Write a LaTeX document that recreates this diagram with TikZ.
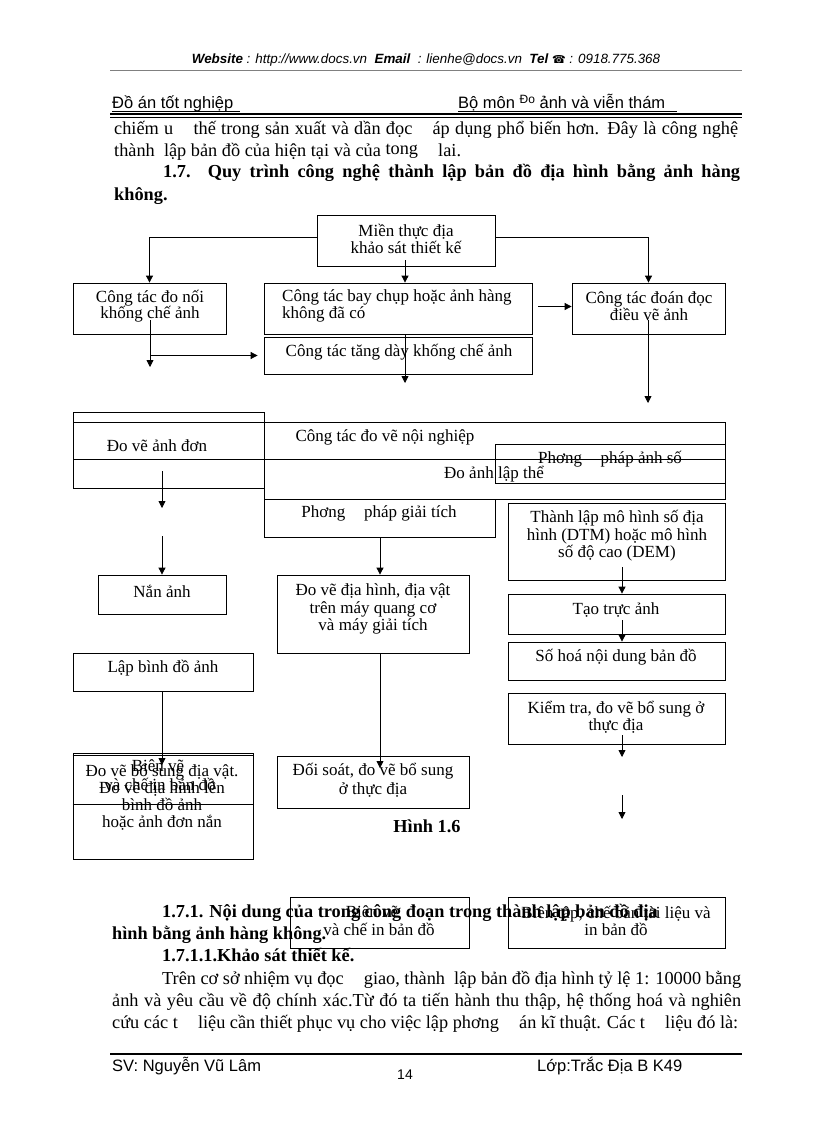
\documentclass[tikz,border=0pt]{standalone}
\usepackage{fontspec}
\setmainfont{Liberation Serif}
\setsansfont{Liberation Sans}
\newfontfamily\dejavu{DejaVu Sans}
\usetikzlibrary{arrows.meta}
\newcommand\bodyf{\fontsize{18.3}{20}\selectfont}
\newcommand\boxf{\fontsize{17}{16.5}\selectfont}
\newcommand\boxff{\fontsize{17}{17.5}\selectfont}
\begin{document}
\begin{tikzpicture}[x=1pt,y=-1pt,
  bx/.style={draw,line width=0.8pt,inner sep=0pt},
  tx/.style={font=\boxf,align=center,inner sep=0pt},
  arr/.style={line width=0.8pt,-{Triangle[length=7pt,width=7pt]}},
  rule/.style={line width=0.8pt}]
\useasboundingbox (0,0) rectangle (816,1123);
% ---------- page header ----------
\node[anchor=base,inner sep=0pt] (hdr) at (426,64) {\sffamily\itshape\fontsize{13.4}{15}\selectfont \textbf{Website} : http://www.docs.vn \ \textbf{Email} \ : lienhe@docs.vn \ \textbf{Tel} {\dejavu\upshape\fontsize{11}{12}\selectfont ☎} : 0918.775.368};
\draw[gray,line width=0.6pt] (110,70) -- (742,70);
\node[anchor=base west,inner sep=0pt] (hl) at (112,109) {\sffamily\fontsize{16.5}{18}\selectfont Đồ án tốt nghiệp};
\node[anchor=base west,inner sep=0pt] (hr) at (458,109) {\sffamily\fontsize{16.5}{18}\selectfont Bộ môn \raisebox{5pt}{\fontsize{12}{12}\selectfont Đo} ảnh và viễn thám};
\draw[line width=0.7pt] (112,111) -- (240,111);
\draw[line width=0.7pt] (458,111) -- (677,111);
\draw[line width=2.5pt] (110,114) -- (742,114);
\draw[line width=0.8pt] (110,117.5) -- (742,117.5);
% ---------- top text ----------
\node[anchor=base west,inner sep=0pt] (p1) at (114,135) {\bodyf\makebox[624pt][s]{chiếm u\hspace{1.1em}thế trong sản xuất và dần đọc\hspace{1.1em}áp dụng phổ biến hơn. Đây là công nghệ}};
\node[anchor=base west,inner sep=0pt] (p2) at (114,157) {\bodyf thành \ lập bản đồ của hiện tại và của \raisebox{2pt}{tong}\hspace{1.1em}lai.};
\node[anchor=base west,inner sep=0pt] (p3) at (163,178) {\bodyf\bfseries\makebox[577pt][s]{1.7. Quy trình công nghệ thành lập bản đồ địa hình bằng ảnh hàng}};
\node[anchor=base west,inner sep=0pt] (p4) at (114,201) {\bodyf\bfseries không.};
% ---------- boxes ----------
\node[bx,minimum width=178pt,minimum height=51pt] (A) at (406,240.5) {};
\node[bx,minimum width=153pt,minimum height=51pt] (B) at (149.5,308.5) {};
\node[bx,minimum width=268pt,minimum height=51pt] (C) at (398,308.5) {};
\node[bx,minimum width=153pt,minimum height=51pt] (D) at (648.5,308.5) {};
\node[bx,minimum width=268pt,minimum height=37pt] (E) at (398,355.5) {};
\node[bx,minimum width=191pt,minimum height=76pt] (F) at (168.5,450) {};
\node[bx,minimum width=652pt,minimum height=37pt] (G) at (399,440.5) {};
\node[bx,minimum width=461pt,minimum height=40pt] (H) at (494.5,479) {};
\node[bx,minimum width=230pt,minimum height=39pt] (I) at (610,463.5) {};
\node[bx,minimum width=231pt,minimum height=38pt] (J) at (379.5,518) {};
\node[bx,minimum width=217pt,minimum height=77pt] (K) at (616.5,541.5) {};
\node[bx,minimum width=128pt,minimum height=39pt] (Nan) at (162,594.5) {};
\node[bx,minimum width=192pt,minimum height=78pt] (DoVe) at (373,614) {};
\node[bx,minimum width=217pt,minimum height=40pt] (Tao) at (616.5,614) {};
\node[bx,minimum width=217pt,minimum height=38pt] (SoHoa) at (616.5,661) {};
\node[bx,minimum width=180pt,minimum height=38pt] (LapBD) at (163,672) {};
\node[bx,minimum width=217pt,minimum height=51pt] (KT) at (616.5,718.5) {};
\node[bx,minimum width=180pt,minimum height=106pt] (L) at (163,806) {};
\draw[rule] ([yshift=-3pt]L.north west) -- ([yshift=-3pt]L.north east);
\draw[rule] ([yshift=2pt]L.west) -- ([yshift=2pt]L.east);
\node[bx,minimum width=192pt,minimum height=52pt] (DS) at (373,782) {};
\node[bx,minimum width=179pt,minimum height=51pt] (M) at (379.5,922.5) {};
\node[bx,minimum width=217pt,minimum height=51pt] (N) at (616.5,922.5) {};
% ---------- box texts ----------
\node[tx] (tA) at (406,239) {Miền thực địa\\khảo sát thiết kế};
\node[tx] (tB) at (150,306) {Công tác đo nối\\khống chế ảnh};
\node[tx,align=left,anchor=west] (tC) at (282,306) {Công tác bay chụp hoặc ảnh hàng\\không đã có};
\node[tx] (tD) at (649,306) {Công tác đoán đọc\\điều vẽ ảnh};
\node[tx] (tE) at (399,352) {Công tác tăng dày khống chế ảnh};
\node[tx] (tF) at (157,446) {Đo vẽ ảnh đơn};
\node[tx] (tG) at (385,437) {Công tác đo vẽ nội nghiệp};
\node[tx] (tI) at (610,459) {Phơng\hspace{1.1em}pháp ảnh số};
\node[tx] (tH) at (494,474) {Đo ảnh lập thể};
\node[tx] (tJ) at (379,513) {Phơng\hspace{1.1em}pháp giải tích};
\node[tx,font=\boxff] (tK) at (617,536) {Thành lập mô hình số địa\\hình (DTM) hoặc mô hình\\số độ cao (DEM)};
\node[tx] (tNan) at (162,591) {Nắn ảnh};
\node[tx,font=\boxff] (tDoVe) at (373,609) {Đo vẽ địa hình, địa vật\\trên máy quang cơ\\và máy giải tích};
\node[tx] (tTao) at (616,610) {Tạo trực ảnh};
\node[tx] (tSoHoa) at (616,657) {Số hoá nội dung bản đồ};
\node[tx] (tLapBD) at (163,668) {Lập bình đồ ảnh};
\node[tx,font=\fontsize{17}{17}\selectfont] (tKT) at (616,717.5) {Kiểm tra, đo vẽ bổ sung ở\\thực địa};
\node[tx,font=\fontsize{17}{17}\selectfont] (tL) at (162,797) {Đo vẽ bổ sung địa vật.\\Đo vẽ địa hình lên\\bình đồ ảnh\\hoặc ảnh đơn nắn};
\node[tx] (tL2) at (158,766) {Biên vẽ};
\node[tx] (tL3) at (160,784) {và chế in bản đồ};
\node[tx,font=\fontsize{17}{18.5}\selectfont] (tDS) at (373,780) {Đối soát, đo vẽ bổ sung\\ở thực địa};
\node[inner sep=0pt] (cap) at (427,826) {\bodyf\bfseries Hình 1.6};
\node[tx] (tM1) at (372,912) {Biên vẽ};
\node[tx] (tM2) at (379,929) {và chế in bản đồ};
\node[tx] (tN) at (616,921) {Biên tập, chế bản tài liệu và\\in bản đồ};
% ---------- connectors ----------
\draw[arr] ([yshift=3pt]A.west) -| (B.north);
\draw[arr] ([yshift=3pt]A.east) -| (D.north);
\coordinate (a1) at (405,260);
\draw[arr] (a1) -- (a1 |- C.north);
\draw[arr] ([xshift=6pt,yshift=2pt]C.east) -- ([yshift=2pt]D.west);
\coordinate (b1) at (150,320);
\coordinate (b2) at (150,367);
\draw[arr] (b1) -- (b2);
\draw[arr] (b1 |- E.west) -- ([xshift=-6pt]E.west);
\coordinate (c1) at (405,383);
\draw[arr] (c1 |- C.south) -- (c1);
\coordinate (d0) at (648,320);
\coordinate (d1) at (648,403);
\draw[arr] (d0) -- (d1);
\coordinate (f1) at (162,471);
\coordinate (f2) at (162,508);
\draw[arr] (f1) -- (f2);
\coordinate (f3) at (162,536);
\draw[arr] (f3) -- (f3 |- Nan.north);
\coordinate (j1) at (380,537);
\draw[arr] (j1 |- J.south) -- (j1 |- DoVe.north);
\coordinate (k1) at (622,567);
\draw[arr] (k1) -- (k1 |- Tao.north);
\coordinate (k2) at (622,620);
\draw[arr] (k2) -- (k2 |- SoHoa.north);
\coordinate (l1) at (162,765);
\draw[arr] (l1 |- LapBD.south) -- (l1);
\coordinate (dv) at (380,768);
\draw[arr] (dv |- DoVe.south) -- (dv);
\coordinate (kt1) at (622,735);
\coordinate (kt2) at (622,757);
\draw[arr] (kt1) -- (kt2);
\coordinate (kt3) at (622,795);
\coordinate (kt4) at (622,819);
\draw[arr] (kt3) -- (kt4);
% ---------- bottom text ----------
\node[anchor=base west,inner sep=0pt] (q1) at (162,917) {\bodyf\bfseries 1.7.1. Nội dung của trong công đoạn trong thành lập bản đồ địa};
\node[anchor=base west,inner sep=0pt] (q2) at (112,939) {\bodyf\bfseries hình bằng ảnh hàng không.};
\node[anchor=base west,inner sep=0pt] (q3) at (162,961) {\bodyf\bfseries 1.7.1.1.Khảo sát thiết kế.};
\node[anchor=base west,inner sep=0pt] (q4) at (162,984) {\bodyf\makebox[579pt][s]{Trên cơ sở nhiệm vụ đọc\hspace{1.1em}giao, thành \ lập bản đồ địa hình tỷ lệ 1: 10000 bằng}};
\node[anchor=base west,inner sep=0pt] (q5) at (112,1006) {\bodyf\makebox[629pt][s]{ảnh và yêu cầu về độ chính xác.Từ đó ta tiến hành thu thập, hệ thống hoá và nghiên}};
\node[anchor=base west,inner sep=0pt] (q6) at (112,1028) {\bodyf\makebox[626pt][s]{cứu các t\hspace{1.1em}liệu cần thiết phục vụ cho việc lập phơng\hspace{1.1em}án kĩ thuật. Các t\hspace{1.1em}liệu đó là:}};
% ---------- footer ----------
\draw[line width=2pt] (110,1054) -- (742,1054);
\node[anchor=base west,inner sep=0pt] (fl) at (112,1071) {\sffamily\fontsize{16.5}{18}\selectfont SV: Nguyễn Vũ Lâm};
\node[anchor=base,inner sep=0pt] (fc) at (405,1079) {\sffamily\fontsize{14}{15}\selectfont 14};
\node[anchor=base west,inner sep=0pt] (fr) at (537,1071) {\sffamily\fontsize{16.5}{18}\selectfont Lớp:Trắc Địa B K49};
\end{tikzpicture}
\end{document}
